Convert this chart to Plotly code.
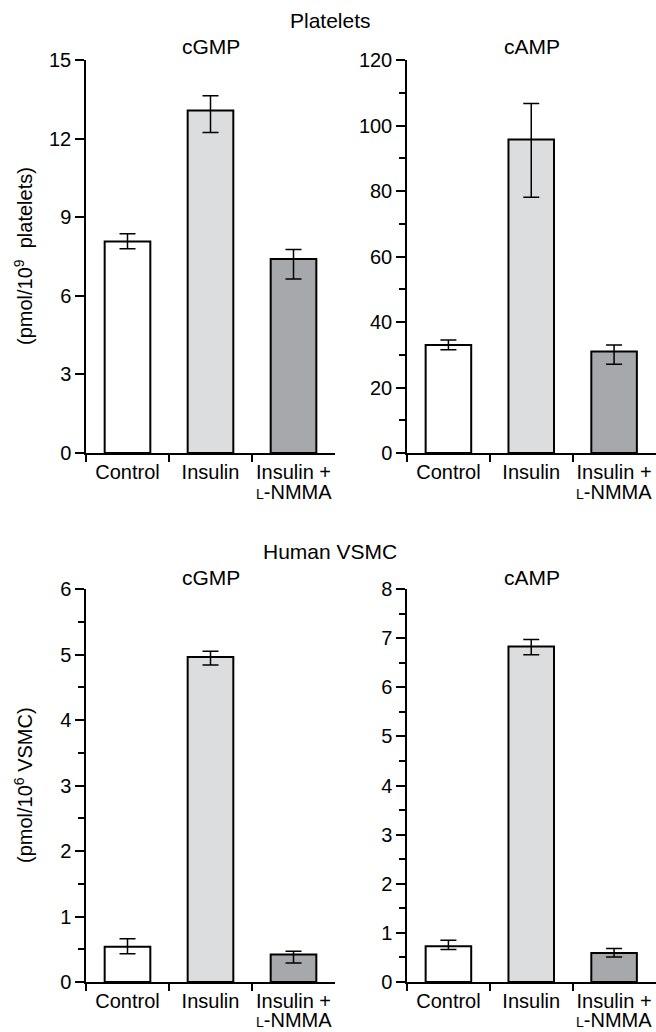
import plotly.graph_objects as go

categories = ["Control", "Insulin", "Insulin +"]
second_line = "<span style='font-size:14px'>L</span>-NMMA"
bar_colors = ["#ffffff", "#dcdddf", "#a7a8ab"]

plt_cgmp = [8.07, 13.07, 7.40]
plt_cgmp_up = [0.30, 0.57, 0.37]
plt_cgmp_dn = [0.27, 0.84, 0.76]

plt_camp = [33.0, 95.7, 31.0]
plt_camp_up = [1.5, 11.0, 2.0]
plt_camp_dn = [1.5, 17.6, 3.9]

vsmc_cgmp = [0.54, 4.96, 0.42]
vsmc_cgmp_up = [0.12, 0.09, 0.05]
vsmc_cgmp_dn = [0.11, 0.12, 0.13]

vsmc_camp = [0.73, 6.83, 0.59]
vsmc_camp_up = [0.12, 0.14, 0.09]
vsmc_camp_dn = [0.07, 0.17, 0.08]

W, H = 656, 1032
FONT = "Liberation Sans, Arial, sans-serif"
FS = 20
TS = 21

fig = go.Figure()

panels = [
    ("x", "y", plt_cgmp, plt_cgmp_up, plt_cgmp_dn),
    ("x2", "y2", plt_camp, plt_camp_up, plt_camp_dn),
    ("x3", "y3", vsmc_cgmp, vsmc_cgmp_up, vsmc_cgmp_dn),
    ("x4", "y4", vsmc_camp, vsmc_camp_up, vsmc_camp_dn),
]
for xa, ya, vals, up, dn in panels:
    fig.add_trace(go.Bar(
        x=categories, y=vals, xaxis=xa, yaxis=ya, width=0.55,
        marker=dict(color=bar_colors, line=dict(color="black", width=2)),
        error_y=dict(type="data", symmetric=False, array=up, arrayminus=dn,
                     color="black", thickness=1.5, width=8),
        showlegend=False, hoverinfo="skip",
    ))

xl = [86 / W, 335 / W]
xr = [407 / W, 655.5 / W]
yt = [1 - 453 / H, 1 - 60 / H]
yb = [1 - 982 / H, 1 - 589 / H]

xcommon = dict(type="category", range=[-0.5, 2.5], tickson="boundaries", ticks="outside",
               ticklen=7, tickwidth=1.5, tickcolor="black", showline=True, linecolor="black",
               linewidth=1.5, showgrid=False, zeroline=False, automargin=False,
               tickfont=dict(family=FONT, size=FS, color="black"))
ycommon = dict(ticks="outside", ticklen=9, tickwidth=1.5, tickcolor="black", showline=True,
               linecolor="black", linewidth=1.5, showgrid=False, zeroline=False, automargin=False,
               tickfont=dict(family=FONT, size=FS, color="black"))
minor = dict(ticks="outside", ticklen=6, tickwidth=1.5, tickcolor="black")

fig.update_layout(
    template="none",
    width=W, height=H, margin=dict(l=0, r=0, t=0, b=0, autoexpand=False),
    paper_bgcolor="white", plot_bgcolor="white",
    bargap=0.45,
    xaxis=dict(domain=xl, anchor="y", **xcommon),
    xaxis2=dict(domain=xr, anchor="y2", **xcommon),
    xaxis3=dict(domain=xl, anchor="y3", **xcommon),
    xaxis4=dict(domain=xr, anchor="y4", **xcommon),
    yaxis=dict(domain=yt, anchor="x", range=[0, 15], tickvals=[0, 3, 6, 9, 12, 15], **ycommon),
    yaxis2=dict(domain=yt, anchor="x2", range=[0, 120], tickvals=[0, 20, 40, 60, 80, 100, 120],
                minor=dict(dtick=10, **minor), **ycommon),
    yaxis3=dict(domain=yb, anchor="x3", range=[0, 6], dtick=1,
                minor=dict(dtick=0.5, **minor), **ycommon),
    yaxis4=dict(domain=yb, anchor="x4", range=[0, 8], dtick=1,
                minor=dict(dtick=0.5, **minor), **ycommon),
)

def ann(text, x, y, angle=0, size=TS, xref="paper"):
    fig.add_annotation(text=text, x=(x / W) if xref == "paper" else x, y=1 - y / H,
                       xref=xref, yref="paper",
                       showarrow=False, textangle=angle, xanchor="center", yanchor="middle",
                       font=dict(family=FONT, size=size, color="black"))

ann("Platelets", 330, 20)
ann("cGMP", 211, 47)
ann("cAMP", 532, 47)
ann("Human VSMC", 330, 551)
ann("cGMP", 211, 577)
ann("cAMP", 532, 577)
ann("(pmol/10<sup>9</sup>  platelets)", 23, 256, angle=-90, size=FS)
ann("(pmol/10<sup>6</sup> VSMC)", 23, 785, angle=-90, size=FS)
for xa, yy in [("x", 492), ("x2", 492), ("x3", 1020), ("x4", 1020)]:
    ann(second_line, categories[2], yy, size=FS, xref=xa)

fig.write_html("out.html", config={"displayModeBar": False},
               post_script="document.body.style.margin='0px';document.body.style.overflow='hidden';")
